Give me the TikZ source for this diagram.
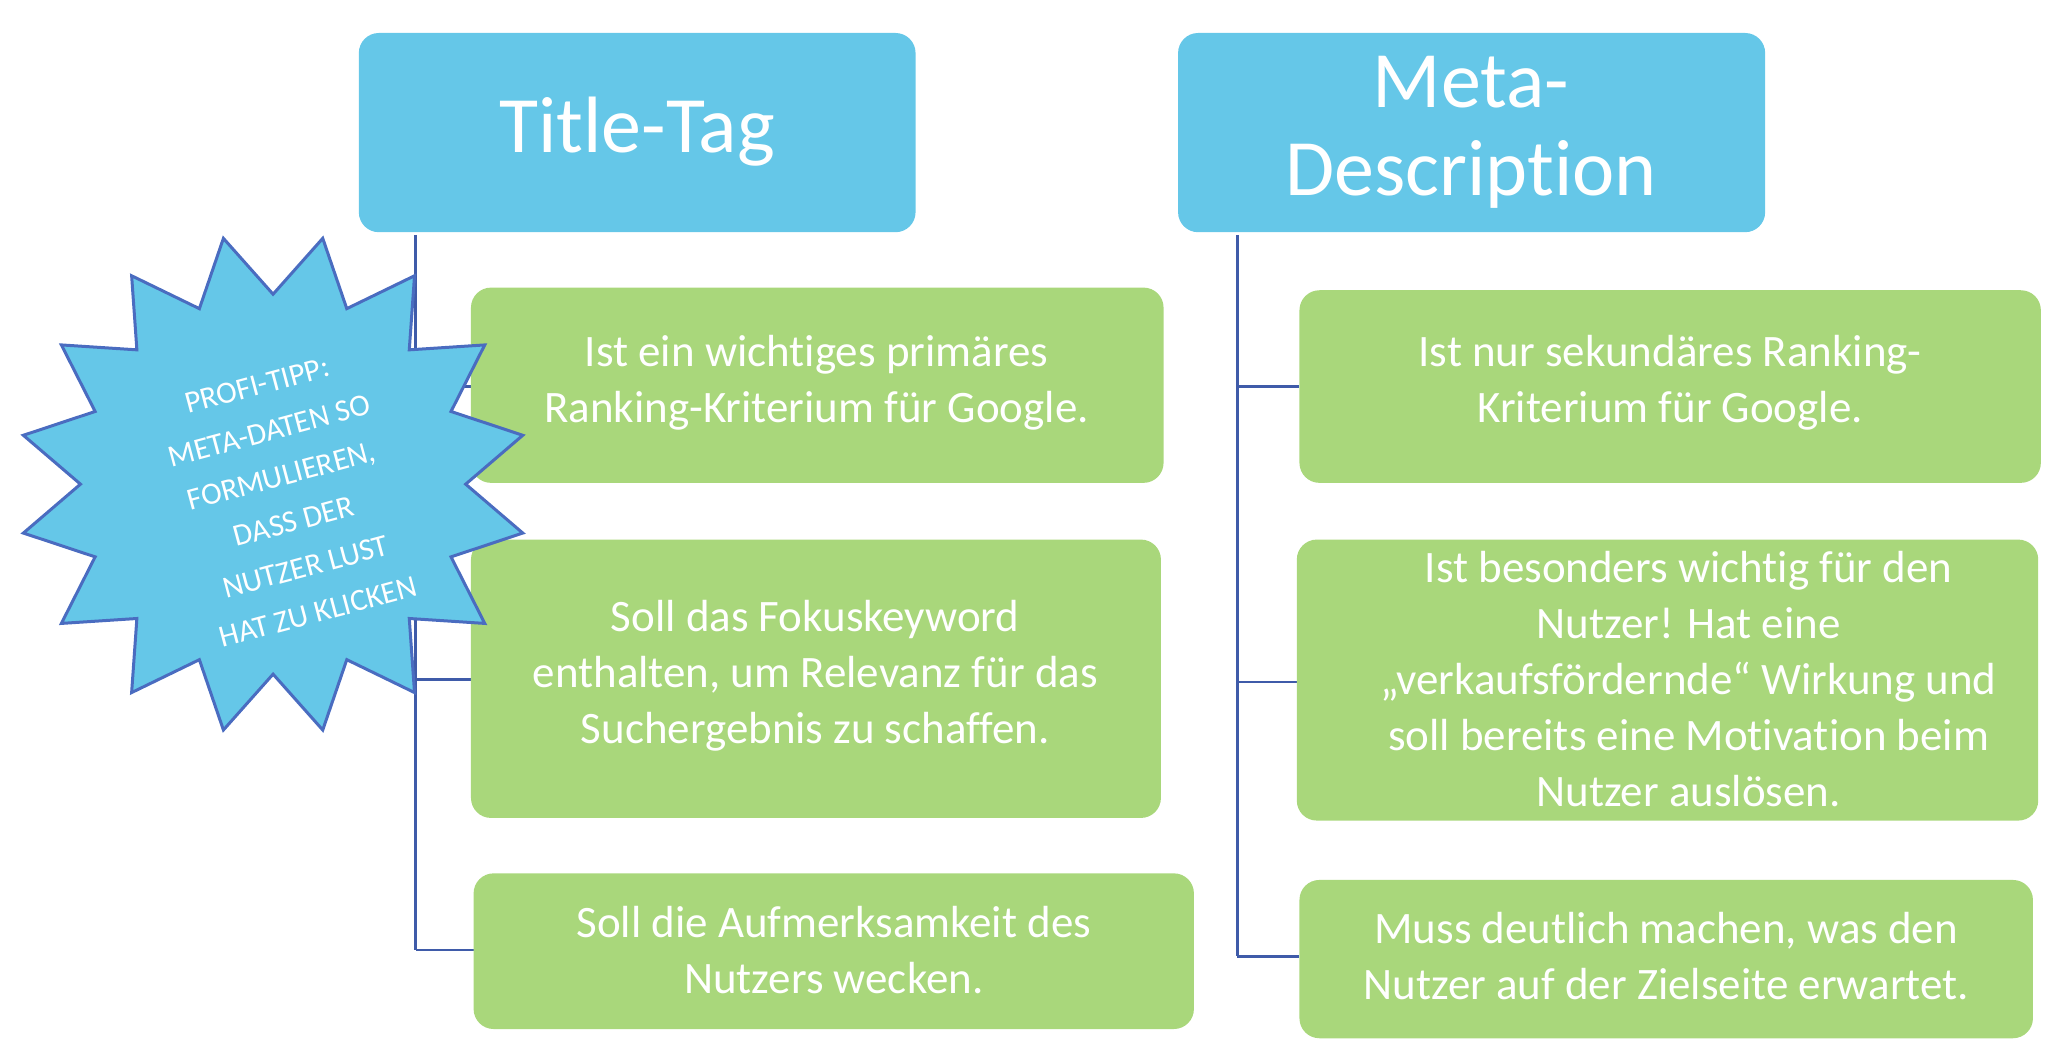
\documentclass[tikz,border=0pt]{standalone}
\usepackage{fontspec}
\usetikzlibrary{calc}
\setmainfont{Carlito}[RawFeature={-liga;-clig}]
\definecolor{hblue}{HTML}{65C7E8}
\definecolor{gbox}{HTML}{A9D77B}
\definecolor{lblue}{HTML}{3F5BA9}
\definecolor{sedge}{HTML}{4A6CC0}
\begin{document}
\begin{tikzpicture}[x=0.66pt,y=-0.66pt,
  head/.style={fill=hblue,rounded corners=10pt,draw=none},
  gb/.style={fill=gbox,rounded corners=10pt,draw=none},
  gt/.style={text=white,font=\fontsize{22.5}{28}\selectfont,align=center},
  ht/.style={text=white,font=\fontsize{40}{44}\selectfont,align=center},
  conn/.style={lblue,line width=1.3pt}]
\useasboundingbox (0,0) rectangle (1560,802);
% connectors
\coordinate (l0) at (315,178); \coordinate (l3) at (315,720);
\coordinate (r0) at (938,178); \coordinate (r3) at (938,725);
\draw[conn] (l0) -- (l3);
\draw[conn] (r0) -- (r3);
\draw[conn] (315,293) -- (357,293);
\draw[conn] (315,515) -- (357,515);
\draw[conn] (l3) -- (359,720);
\draw[conn] (938,293) -- (985,293);
\draw[conn] (938,517) -- (983,517);
\draw[conn] (r3) -- (985,725);
% heads
\fill[head] (272,25) rectangle (694,176);
\node[ht] (tt) at (483,100) {Title-Tag};
\fill[head] (893,25) rectangle (1338,176);
\node[ht] (md) at (1115,100) {Meta-\\Description};
% left boxes
\fill[gb] (357,218) rectangle (882,366);
\node[gt] (a1) at (619,290) {Ist ein wichtiges primäres\\Ranking-Kriterium für Google.};
\fill[gb] (357,409) rectangle (880,620);
\node[gt] (a2) at (618,512) {Soll das Fokuskeyword\\enthalten, um Relevanz für das\\Suchergebnis zu schaffen.};
\fill[gb] (359,662) rectangle (905,780);
\node[gt] (a3) at (632,720) {Soll die Aufmerksamkeit des\\Nutzers wecken.};
% right boxes
\fill[gb] (985,220) rectangle (1547,366);
\node[gt] (b1) at (1266,290) {Ist nur sekundäres Ranking-\\Kriterium für Google.};
\fill[gb] (983,409) rectangle (1545,622);
\node[gt] (b2) at (1280,515) {Ist besonders wichtig für den\\Nutzer! Hat eine\\„verkaufsfördernde“ Wirkung und\\soll bereits eine Motivation beim\\Nutzer auslösen.};
\fill[gb] (985,667) rectangle (1541,787);
\node[gt] (b3) at (1263,725) {Muss deutlich machen, was den\\Nutzer auf der Zielseite erwartet.};
% star
\coordinate (sc) at (207,367);
\draw[fill=hblue,draw=sedge,line width=1.5pt,line join=miter]
  ($(sc)+(78.75:193 and 190)$)
  \foreach \i in {0,...,15} {
    -- ($(sc)+({90+22.5*\i}:146 and 144)$)
    -- ($(sc)+({101.25+22.5*\i}:193 and 190)$)
  } -- cycle;
\node[text=white,font=\fontsize{15.5}{23.5}\selectfont,align=center,rotate=15] (star) at (218,378)
 {PROFI-TIPP:\\META-DATEN SO\\FORMULIEREN,\\DASS DER\\NUTZER LUST\\HAT ZU KLICKEN};
\end{tikzpicture}
\end{document}
